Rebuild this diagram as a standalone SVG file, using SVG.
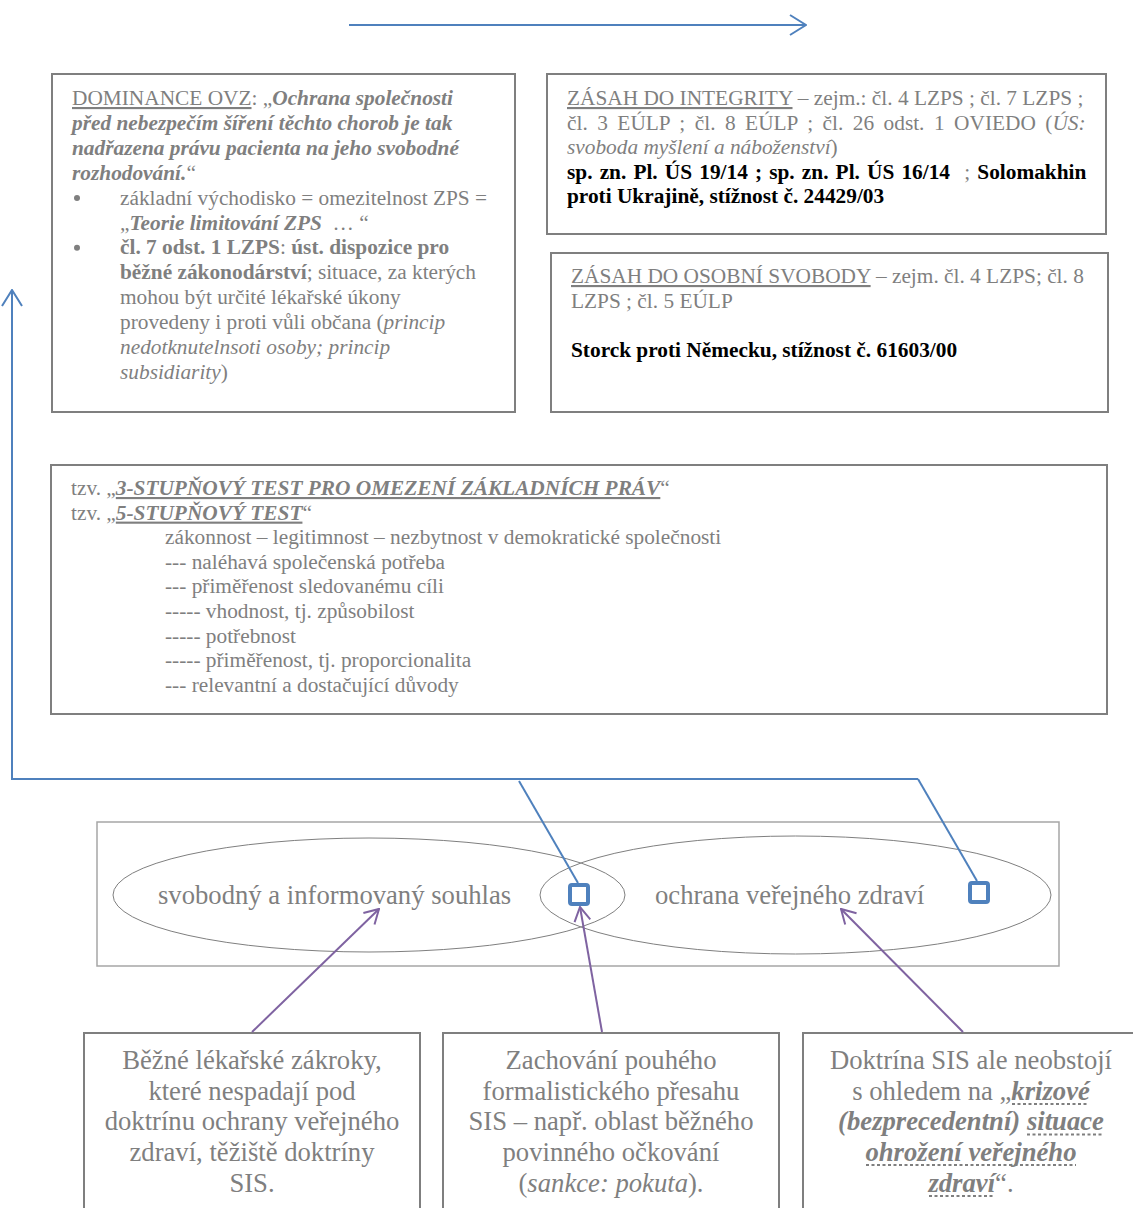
<svg xmlns="http://www.w3.org/2000/svg" width="1133" height="1208" viewBox="0 0 1133 1208">
  <style>
    .box { fill: #ffffff; stroke: #7f7f7f; stroke-width: 2; }
    .frame { fill: none; stroke: #a6a6a6; stroke-width: 1.5; }
    .ell { fill: none; stroke: #7f7f7f; stroke-width: 1; }
    .t { font-family: "Liberation Serif", "Times New Roman", serif; font-size: 21.33px; fill: #7f7f7f; }
    .big { font-family: "Liberation Serif", "Times New Roman", serif; font-size: 26.67px; fill: #7f7f7f; }
    .dot { fill: #7f7f7f; }
    .bi { font-weight: bold; font-style: italic; }
    .b { font-weight: bold; }
    .i { font-style: italic; }
    .blk { fill: #000000; }
    .pre { white-space: pre; }
    .blue { fill: none; stroke: #4f81bd; stroke-width: 2; }
    .purple { fill: none; stroke: #7f63a1; stroke-width: 2; }
    .mark { fill: #ffffff; stroke: #4f81bd; stroke-width: 4; }
    .dots { stroke: #7f7f7f; stroke-width: 2; stroke-dasharray: 3 2.5; }
  </style>
  <defs>
    <marker id="arrowBlue" viewBox="0 0 18 22" refX="17" refY="11" markerWidth="18" markerHeight="22" markerUnits="userSpaceOnUse" orient="auto">
      <path d="M1,1 L17,11 L1,21" fill="none" stroke="#4f81bd" stroke-width="2"/>
    </marker>
    <marker id="arrowPurple" viewBox="0 0 16 18" refX="15" refY="9" markerWidth="16" markerHeight="18" markerUnits="userSpaceOnUse" orient="auto">
      <path d="M1,1 L15,9 L1,17" fill="none" stroke="#7f63a1" stroke-width="2"/>
    </marker>
  </defs>

  <!-- top-left box: dominance -->
  <g id="node-dominance">
    <rect class="box" x="52" y="74" width="463" height="338"/>
    <text class="t" x="72" y="105"><tspan text-decoration="underline">DOMINANCE OVZ</tspan>: „<tspan class="bi">Ochrana společnosti</tspan></text>
    <text class="t bi" x="72" y="129.9">před nebezpečím šíření těchto chorob je tak</text>
    <text class="t bi" x="72" y="154.8">nadřazena právu pacienta na jeho svobodné</text>
    <text class="t" x="72" y="179.7"><tspan class="bi">rozhodování.</tspan>“</text>
    <circle class="dot" cx="77" cy="198" r="3"/>
    <text class="t" x="120" y="204.6">základní východisko = omezitelnost ZPS =</text>
    <text class="t pre" x="120" y="229.5">„<tspan class="bi">Teorie limitování ZPS</tspan>  … “</text>
    <circle class="dot" cx="77" cy="247.8" r="3"/>
    <text class="t" x="120" y="254.4"><tspan class="b">čl. 7 odst. 1 LZPS</tspan>: <tspan class="b">úst. dispozice pro</tspan></text>
    <text class="t" x="120" y="279.3"><tspan class="b">běžné zákonodárství</tspan>; situace, za kterých</text>
    <text class="t" x="120" y="304.2">mohou být určité lékařské úkony</text>
    <text class="t" x="120" y="329.1">provedeny i proti vůli občana (<tspan class="i">princip</tspan></text>
    <text class="t i" x="120" y="354">nedotknutelnsoti osoby; princip</text>
    <text class="t" x="120" y="378.9"><tspan class="i">subsidiarity</tspan>)</text>
  </g>

  <!-- top-right box: integrity -->
  <g id="node-integrity">
    <rect class="box" x="547" y="74" width="559" height="160"/>
    <text class="t" x="567" y="105"><tspan text-decoration="underline">ZÁSAH DO INTEGRITY</tspan> – zejm.: čl. 4 LZPS ; čl. 7 LZPS ;</text>
    <text class="t" x="567" y="129.5" word-spacing="4.15">čl. 3 EÚLP ; čl. 8 EÚLP ; čl. 26 odst. 1 OVIEDO (<tspan class="i">ÚS:</tspan></text>
    <text class="t" x="567" y="154"><tspan class="i">svoboda myšlení a náboženství</tspan>)</text>
    <text class="t pre" x="567" y="178.5" word-spacing="1.8"><tspan class="b blk">sp. zn. Pl. ÚS 19/14 ; sp. zn. Pl. ÚS 16/14</tspan>  ; <tspan class="b blk">Solomakhin</tspan></text>
    <text class="t b blk" x="567" y="203">proti Ukrajině, stížnost č. 24429/03</text>
  </g>

  <!-- right box: personal liberty -->
  <g id="node-liberty">
    <rect class="box" x="551" y="253" width="557" height="159"/>
    <text class="t" x="571" y="283"><tspan text-decoration="underline">ZÁSAH DO OSOBNÍ SVOBODY</tspan> – zejm. čl. 4 LZPS; čl. 8</text>
    <text class="t" x="571" y="307.5">LZPS ; čl. 5 EÚLP</text>
    <text class="t b blk" x="571" y="357">Storck proti Německu, stížnost č. 61603/00</text>
  </g>

  <!-- wide box: proportionality tests -->
  <g id="node-tests">
    <rect class="box" x="51" y="465" width="1056" height="249"/>
    <text class="t" x="71" y="495">tzv. „<tspan class="bi" text-decoration="underline">3-STUPŇOVÝ TEST PRO OMEZENÍ ZÁKLADNÍCH PRÁV</tspan>“</text>
    <text class="t" x="71" y="519.6">tzv. „<tspan class="bi" text-decoration="underline">5-STUPŇOVÝ TEST</tspan>“</text>
    <text class="t" x="165" y="544.2">zákonnost – legitimnost – nezbytnost v demokratické společnosti</text>
    <text class="t" x="165" y="568.8">--- naléhavá společenská potřeba</text>
    <text class="t" x="165" y="593.4">--- přiměřenost sledovanému cíli</text>
    <text class="t" x="165" y="618">----- vhodnost, tj. způsobilost</text>
    <text class="t" x="165" y="642.6">----- potřebnost</text>
    <text class="t" x="165" y="667.2">----- přiměřenost, tj. proporcionalita</text>
    <text class="t" x="165" y="691.8">--- relevantní a dostačující důvody</text>
  </g>

  <!-- overlapping ellipses -->
  <g id="node-venn">
    <rect class="frame" x="97" y="822" width="962" height="144"/>
    <ellipse class="ell" cx="369" cy="895" rx="256" ry="57"/>
    <ellipse class="ell" cx="795.5" cy="895" rx="255.5" ry="59"/>
    <text class="big" x="158" y="904">svobodný a informovaný souhlas</text>
    <text class="big" x="655" y="904">ochrana veřejného zdraví</text>
    <rect class="mark" x="570" y="885" width="18" height="19" rx="2"/>
    <rect class="mark" x="970" y="883" width="18" height="19" rx="2"/>
  </g>

  <!-- bottom boxes -->
  <g id="node-common">
    <rect class="box" x="84" y="1033" width="336" height="190"/>
    <text class="big" text-anchor="middle" x="252" y="1069">Běžné lékařské zákroky,</text>
    <text class="big" text-anchor="middle" x="252" y="1099.6">které nespadají pod</text>
    <text class="big" text-anchor="middle" x="252" y="1130.3">doktrínu ochrany veřejného</text>
    <text class="big" text-anchor="middle" x="252" y="1161">zdraví, těžiště doktríny</text>
    <text class="big" text-anchor="middle" x="252" y="1191.6">SIS.</text>
  </g>
  <g id="node-vaccination">
    <rect class="box" x="443" y="1033" width="336" height="190"/>
    <text class="big" text-anchor="middle" x="611" y="1069">Zachování pouhého</text>
    <text class="big" text-anchor="middle" x="611" y="1099.6">formalistického přesahu</text>
    <text class="big" text-anchor="middle" x="611" y="1130.3">SIS – např. oblast běžného</text>
    <text class="big" text-anchor="middle" x="611" y="1161">povinného očkování</text>
    <text class="big" text-anchor="middle" x="611" y="1191.6">(<tspan class="i">sankce: pokuta</tspan>).</text>
  </g>
  <g id="node-crisis">
    <rect class="box" x="803" y="1033" width="340" height="190"/>
    <text class="big" text-anchor="middle" x="971" y="1069">Doktrína SIS ale neobstojí</text>
    <text class="big" text-anchor="middle" x="971" y="1099.6">s ohledem na „<tspan class="bi">krizové</tspan></text>
    <text class="big" text-anchor="middle" x="971" y="1130.3"><tspan class="bi">(bezprecedentní)</tspan> <tspan class="bi">situace</tspan></text>
    <text class="big bi" text-anchor="middle" x="971" y="1161">ohrožení veřejného</text>
    <text class="big" text-anchor="middle" x="971" y="1191.6"><tspan class="bi">zdraví</tspan>“.</text>
    <line class="dots" x1="1012" y1="1104" x2="1089" y2="1104"/>
    <line class="dots" x1="1027" y1="1134.5" x2="1103" y2="1134.5"/>
    <line class="dots" x1="866" y1="1165" x2="1076" y2="1165"/>
    <line class="dots" x1="929" y1="1196" x2="993" y2="1196"/>
  </g>

  <!-- connectors -->
  <g id="connectors">
    <line class="blue" x1="349" y1="25" x2="806" y2="25" marker-end="url(#arrowBlue)"/>
    <polyline class="blue" points="918,779 12,779 12,290" marker-end="url(#arrowBlue)"/>
    <line class="blue" x1="519" y1="781" x2="578" y2="883"/>
    <line class="blue" x1="918" y1="779" x2="977" y2="881"/>
    <line class="purple" x1="252" y1="1032" x2="379" y2="909" marker-end="url(#arrowPurple)"/>
    <line class="purple" x1="602" y1="1032" x2="580" y2="907" marker-end="url(#arrowPurple)"/>
    <line class="purple" x1="963" y1="1032" x2="841" y2="909" marker-end="url(#arrowPurple)"/>
  </g>
</svg>
